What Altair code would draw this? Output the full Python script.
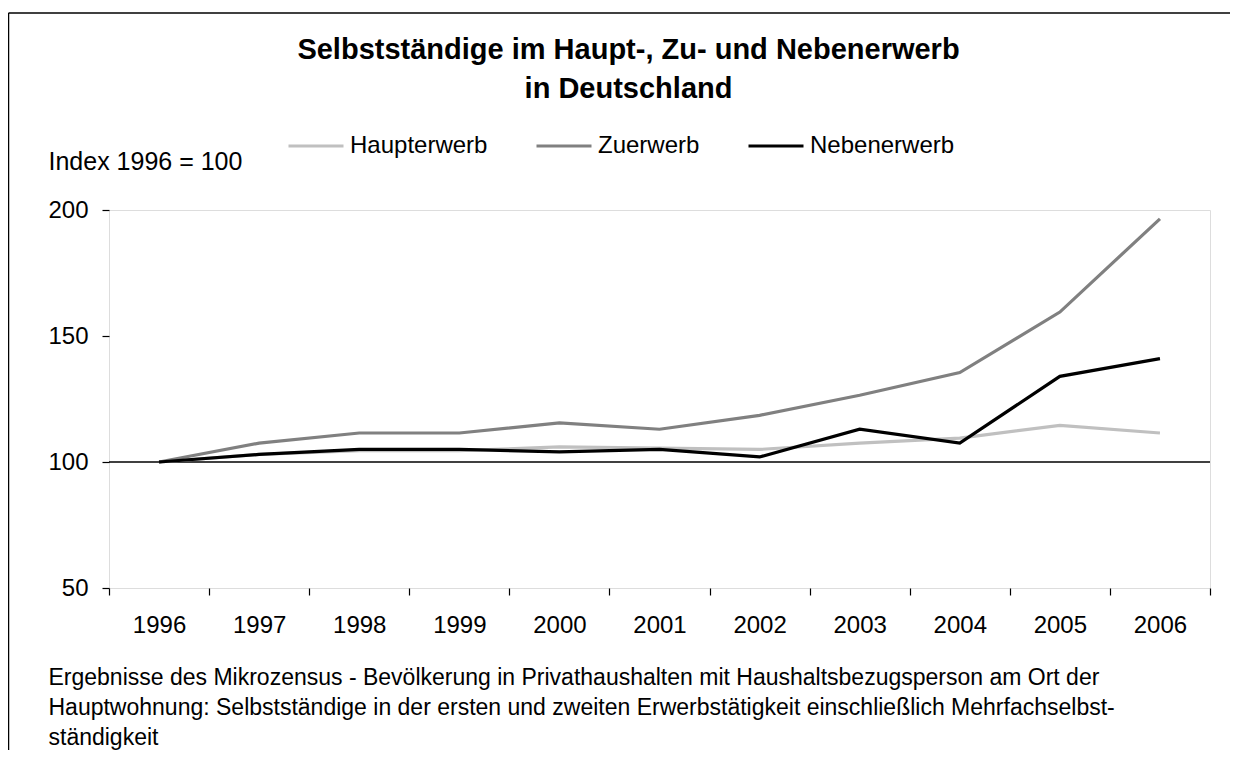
import altair as alt
import pandas as pd

years = ["1996", "1997", "1998", "1999", "2000", "2001", "2002", "2003", "2004", "2005", "2006"]
haupterwerb = [100, 103, 104.5, 104.5, 106, 105.5, 105, 107.5, 109.5, 114.5, 111.5]
zuerwerb = [100, 107.5, 111.5, 111.5, 115.5, 113, 118.5, 126.5, 135.5, 159.5, 196.5]
nebenerwerb = [100, 103, 105, 105, 104, 105, 102, 113, 107.5, 134, 141]
series_names = ["Haupterwerb", "Zuerwerb", "Nebenerwerb"]
series_colors = ["#c0c0c0", "#808080", "#000000"]
y_ticks = [50, 100, 150, 200]
title_lines = ["Selbstständige im Haupt-, Zu- und Nebenerwerb", "in Deutschland"]
y_title = "Index 1996 = 100"
footnote = [
    "Ergebnisse des Mikrozensus - Bevölkerung in Privathaushalten mit Haushaltsbezugsperson am Ort der",
    "Hauptwohnung: Selbstständige in der ersten und zweiten Erwerbstätigkeit einschließlich Mehrfachselbst-",
    "ständigkeit",
]

rows = []
for name, vals in zip(series_names, [haupterwerb, zuerwerb, nebenerwerb]):
    for yr, v in zip(years, vals):
        rows.append({"Jahr": yr, "Wert": v, "Reihe": name})
df = pd.DataFrame(rows)

FONT = "Liberation Sans"
W, H = 1101, 378

x_enc = alt.X(
    "Jahr:O",
    sort=years,
    bandPosition=0.5,
    scale=alt.Scale(type="band", paddingInner=0, paddingOuter=0),
    axis=alt.Axis(
        title=footnote,
        titleX=-61,
        titleY=96,
        titleAngle=0,
        titleAlign="left",
        titleBaseline="alphabetic",
        titleFontSize=23,
        titleFontWeight="normal",
        titleLineHeight=30,
        titleFont=FONT,
        titleColor="#000",
        labelAngle=0,
        labelFontSize=24,
        labelPadding=18,
        labelColor="#000",
        labelFont=FONT,
        tickBand="extent",
        tickSize=7,
        tickColor="#000",
        tickWidth=1.2,
        domain=False,
        grid=False,
    ),
)

y_enc = alt.Y(
    "Wert:Q",
    scale=alt.Scale(domain=[50, 200], nice=False, zero=False),
    axis=alt.Axis(
        values=y_ticks,
        title=y_title,
        titleX=-61,
        titleY=-40.7,
        titleAngle=0,
        titleAlign="left",
        titleBaseline="alphabetic",
        titleFontSize=25,
        titleFontWeight="normal",
        titleFont=FONT,
        titleColor="#000",
        labelFontSize=24,
        labelPadding=14,
        labelColor="#000",
        labelFont=FONT,
        tickSize=7,
        tickColor="#000",
        tickWidth=1.2,
        domain=False,
        grid=False,
    ),
)

lines = alt.Chart(df).mark_line(strokeWidth=3.2).encode(
    x=x_enc,
    y=y_enc,
    color=alt.Color(
        "Reihe:N",
        scale=alt.Scale(domain=series_names, range=series_colors),
        sort=series_names,
        legend=alt.Legend(
            title=None,
            orient="none",
            direction="horizontal",
            legendX=178,
            legendY=-93,
            symbolType="stroke",
            symbolSize=3025,
            symbolStrokeWidth=3,
            labelFontSize=24,
            labelFont=FONT,
            labelColor="#000",
            labelOffset=5,
            columnPadding=42,
        ),
    ),
)

one = pd.DataFrame({"k": [0]})
ref100 = alt.Chart(one).mark_rule(color="#000", strokeWidth=1.5).encode(y=alt.datum(100))
frame_top = alt.Chart(one).mark_rule(color="#000", strokeWidth=1.5).encode(
    x=alt.value(-100.5), x2=alt.value(1140), y=alt.value(-197)
)
frame_left = alt.Chart(one).mark_rule(color="#000", strokeWidth=1.5).encode(
    x=alt.value(-100.5), y=alt.value(-197), y2=alt.value(600)
)

chart = (
    alt.layer(ref100, lines, frame_top, frame_left)
    .properties(
        width=W,
        height=H,
        autosize=alt.AutoSizeParams(type="none"),
        padding={"left": 101, "top": 202, "right": 20, "bottom": 162},
        title=alt.TitleParams(
            text=title_lines,
            fontSize=29,
            font=FONT,
            fontWeight="bold",
            color="#000",
            lineHeight=39,
            anchor="middle",
            dx=-31,
            dy=96,
        ),
    )
    .configure_view(stroke="#000", strokeWidth=1.5)
    .configure(background="white")
)

chart.save("out.html", embed_options={"renderer": "svg", "actions": False})
